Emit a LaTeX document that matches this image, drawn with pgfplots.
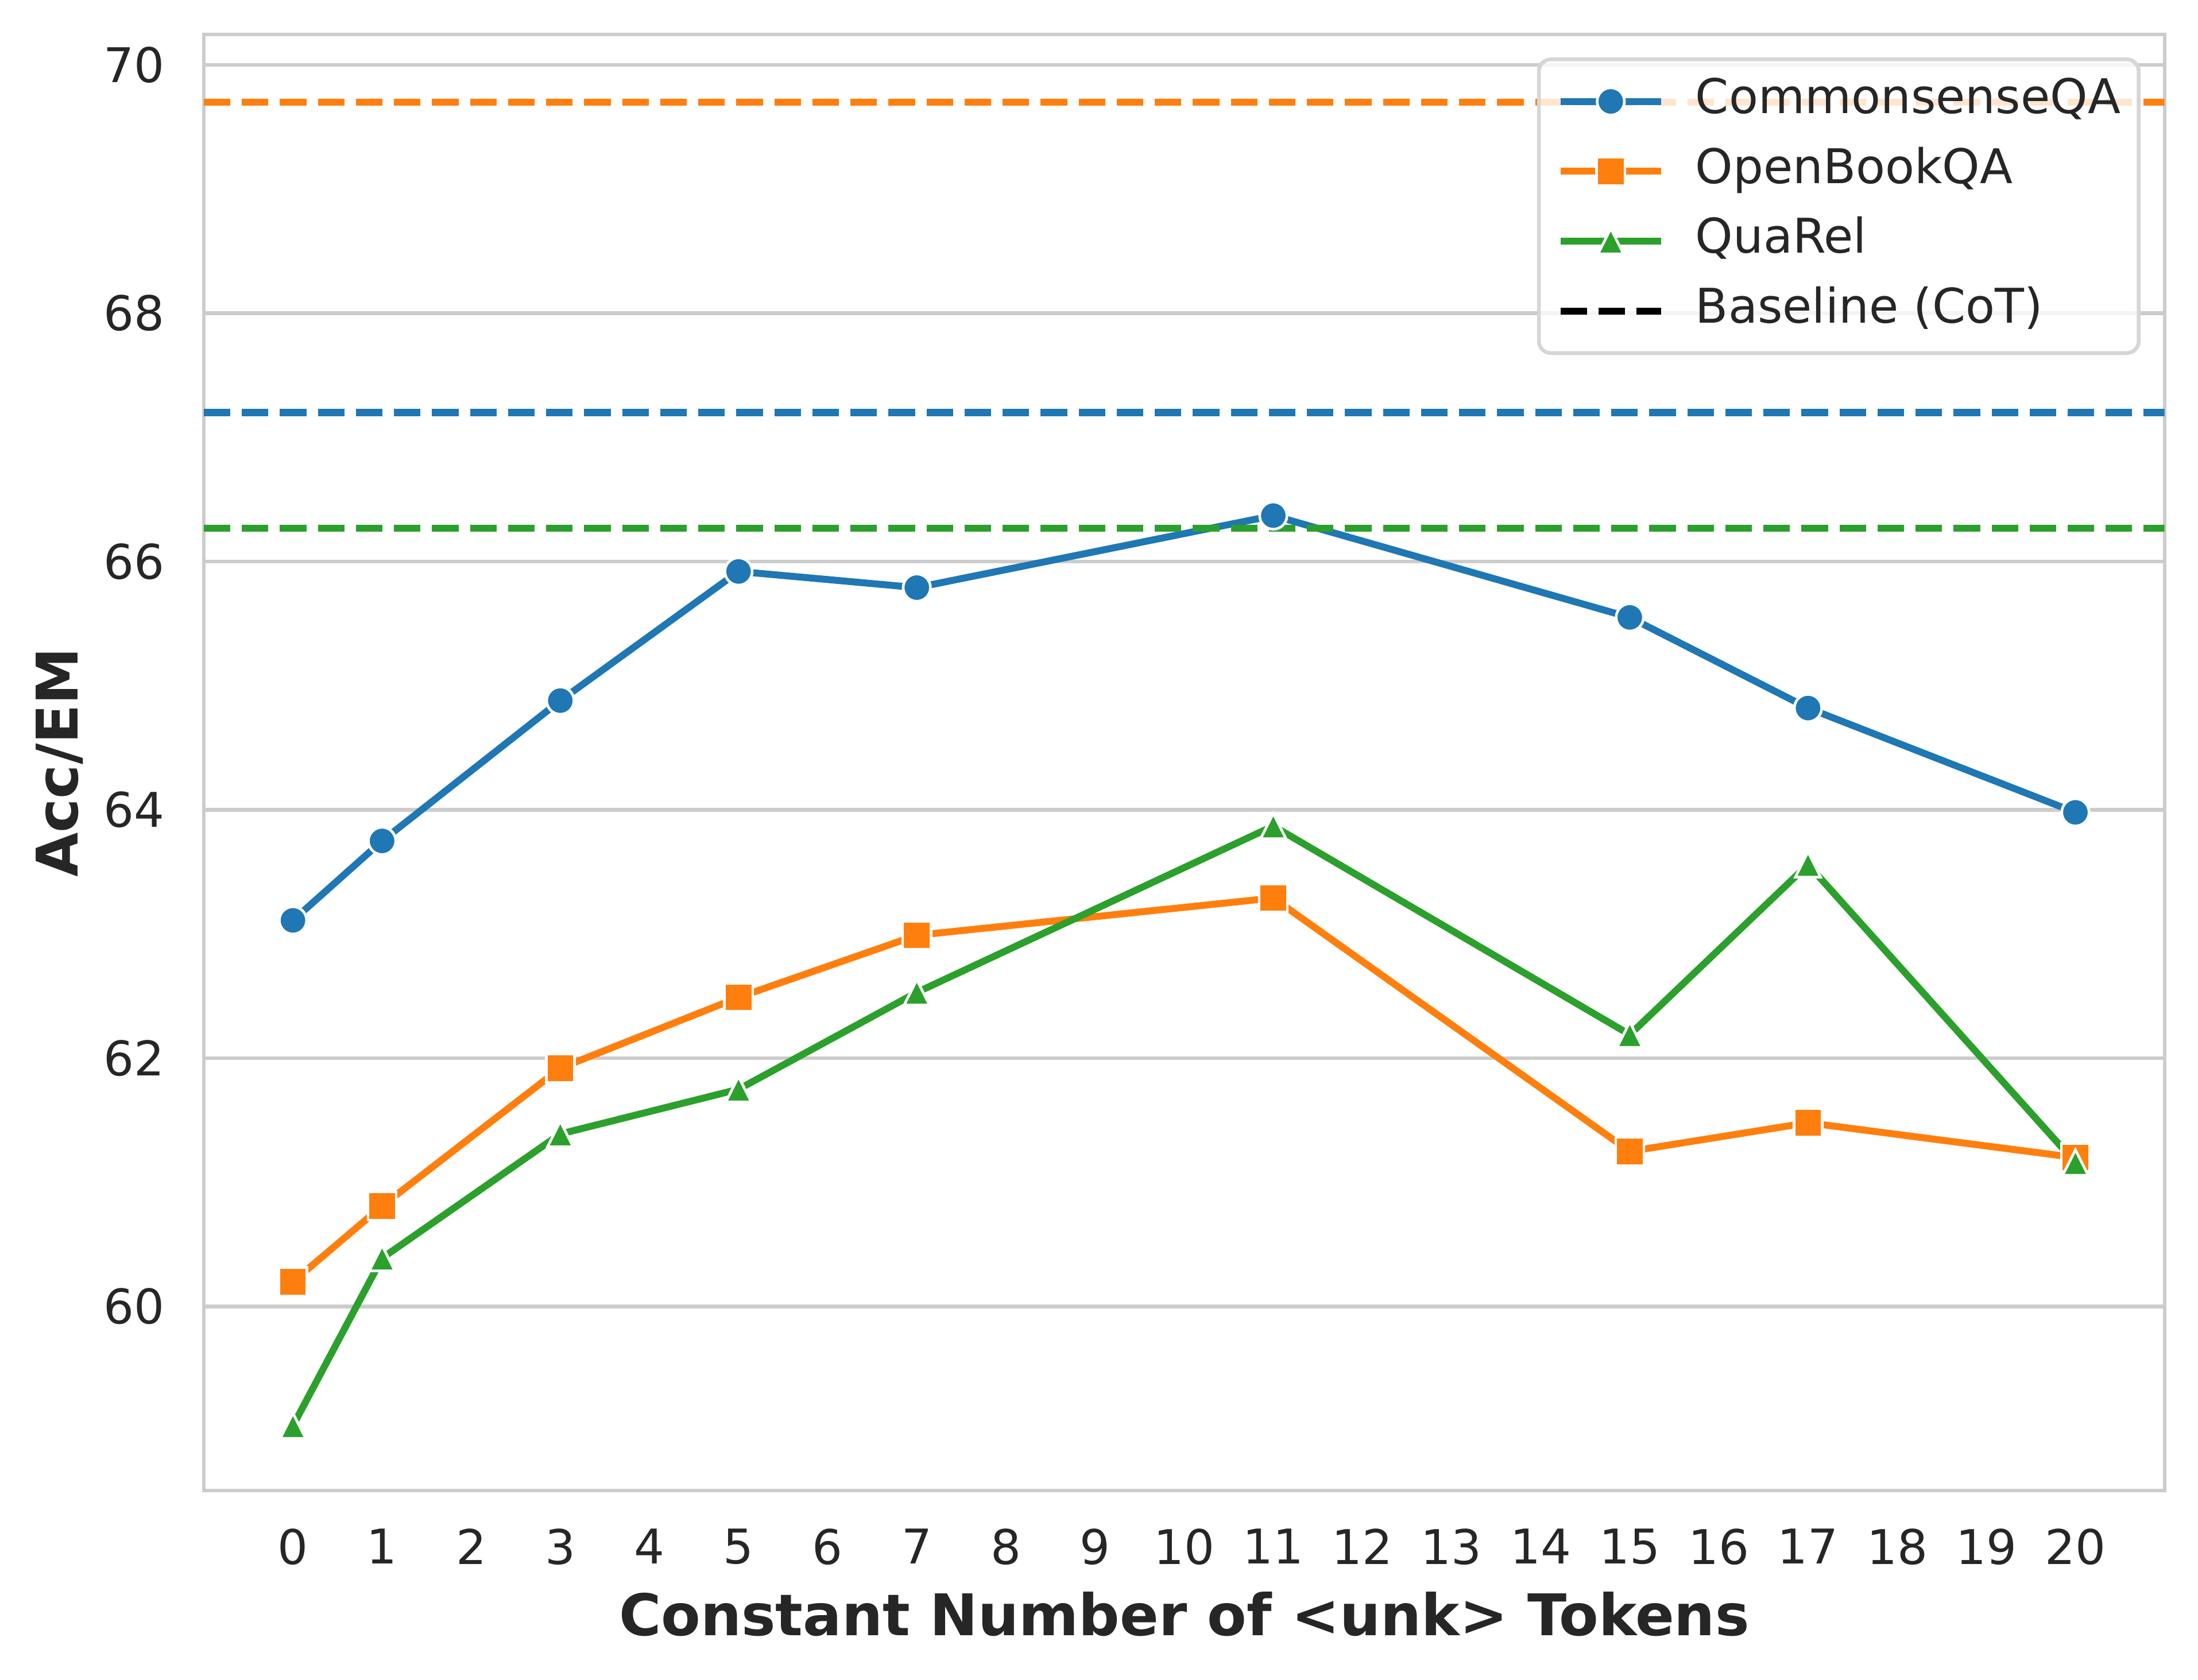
\documentclass[border=0pt]{standalone}
\usepackage{fontspec}
\setmainfont{DejaVu Sans}
\usepackage{pgfplots}
\pgfplotsset{compat=1.18}
\definecolor{cblue}{HTML}{1F77B4}
\definecolor{corange}{HTML}{FF7F0E}
\definecolor{cgreen}{HTML}{2CA02C}
\definecolor{txt}{HTML}{262626}
\definecolor{gridc}{HTML}{CCCCCC}
\definecolor{legc}{HTML}{D6D6D6}
\pgfdeclareplotmark{mtri}{%
  \pgfpathmoveto{\pgfqpoint{0pt}{\pgfplotmarksize}}%
  \pgfpathlineto{\pgfqpoint{-\pgfplotmarksize}{-\pgfplotmarksize}}%
  \pgfpathlineto{\pgfqpoint{\pgfplotmarksize}{-\pgfplotmarksize}}%
  \pgfpathclose
  \pgfusepathqfillstroke}
\begin{document}
\begin{tikzpicture}
\useasboundingbox (-42.6pt,-39.6pt) rectangle (416.8pt,311.5pt);
\begin{axis}[
  at={(0,0)}, anchor=south west,
  scale only axis, width=409.8pt, height=304.3pt,
  xmin=-1, xmax=21, ymin=58.52, ymax=70.245,
  xtick={0,...,20}, ytick={60,62,...,70},
  major tick length=0pt,
  xmajorgrids=false, ymajorgrids=true, major grid style={gridc, line width=0.8pt},
  axis line style={gridc, line width=0.7pt},
  ticklabel style={font=\fontsize{10}{12}\selectfont, text=txt, inner sep=0pt},
  xticklabel style={yshift=-7.8pt},
  yticklabel style={xshift=-8pt},
  /pgf/number format/assume math mode=true,
  xlabel={Constant Number of <unk> Tokens},
  ylabel={Acc/EM},
  xlabel style={at={(axis description cs:0.5,-0.0851)}, anchor=center, font=\bfseries\fontsize{12}{14}\selectfont, text=txt, inner sep=0pt},
  ylabel style={at={(axis description cs:-0.0737,0.5)}, anchor=center, font=\bfseries\fontsize{12}{14}\selectfont, text=txt, inner sep=0pt},
  legend style={at={(1,1)}, anchor=north east, xshift=-5.0pt, yshift=-4.8pt,
    draw=legc, line width=0.8pt, fill=white, fill opacity=0.8, text opacity=1, draw opacity=1,
    rounded corners=2.5pt, inner xsep=3.8pt, inner ysep=4pt, row sep=5pt, column sep=6.5pt,
    font=\fontsize{10}{12}\selectfont, text=txt,
    nodes={inner sep=0pt, text height=7.3pt, text depth=2.3pt}},
  legend cell align=left,
  legend image code/.code={\draw[sharp corners, fill opacity=1, draw opacity=1, mark repeat=2, mark phase=2] plot coordinates {(0pt,0pt) (10.5pt,0pt) (21pt,0pt)};},
]
\addplot[cblue, line width=1.45pt, mark=*, mark size=2.85pt, mark options={solid, fill=cblue, draw=white, line width=0.55pt}]
  coordinates {(0,63.11) (1,63.75) (3,64.88) (5,65.92) (7,65.79) (11,66.37) (15,65.55) (17,64.82) (20,63.98)};
\addlegendentry{CommonsenseQA}
\addplot[cblue, line width=1.45pt, dash pattern=on 5.55pt off 2.4pt, forget plot]
  coordinates {(-1,67.20) (21,67.20)};
\addplot[corange, line width=1.45pt, mark=square*, mark size=2.95pt, mark options={solid, fill=corange, draw=white, line width=0.55pt}]
  coordinates {(0,60.20) (1,60.81) (3,61.92) (5,62.49) (7,62.99) (11,63.29) (15,61.25) (17,61.48) (20,61.20)};
\addlegendentry{OpenBookQA}
\addplot[corange, line width=1.45pt, dash pattern=on 5.55pt off 2.4pt, forget plot]
  coordinates {(-1,69.70) (21,69.70)};
\addplot[cgreen, line width=1.45pt, mark=mtri, mark size=2.65pt, mark options={solid, fill=cgreen, draw=white, line width=0.55pt}]
  coordinates {(0,59.04) (1,60.39) (3,61.39) (5,61.75) (7,62.53) (11,63.87) (15,62.19) (17,63.56) (20,61.16)};
\addlegendentry{QuaRel}
\addplot[cgreen, line width=1.45pt, dash pattern=on 5.55pt off 2.4pt, forget plot]
  coordinates {(-1,66.27) (21,66.27)};
\addlegendimage{black, line width=1.45pt, dash pattern=on 5.55pt off 2.4pt}
\addlegendentry{Baseline (CoT)}
\end{axis}
\end{tikzpicture}
\end{document}
